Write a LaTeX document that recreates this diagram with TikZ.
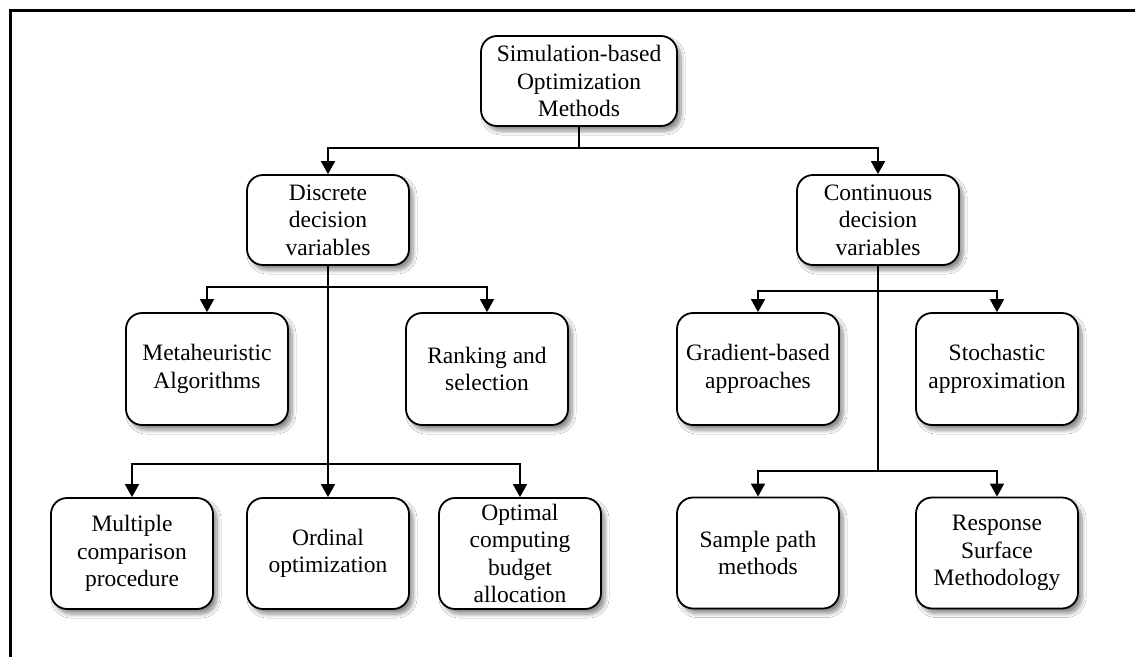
\documentclass[tikz,border=0pt]{standalone}
\usepackage{fontspec}
\setmainfont{Liberation Serif}
\usetikzlibrary{arrows.meta,shadows.blur}
\begin{document}
\begin{tikzpicture}[x=1pt,y=-1pt,
  box/.style={draw=black, line width=1.8pt, rounded corners=16pt, fill=white,
    align=center, inner sep=0pt, minimum width=162pt, minimum height=111pt,
    font=\fontsize{23.5}{27.5}\selectfont,
    blur shadow={shadow xshift=4pt, shadow yshift=-5pt, shadow blur steps=8, shadow blur radius=4pt, shadow opacity=45}},
  topbox/.style={box, minimum height=90pt},
  conn/.style={line width=1.7pt},
  arr/.style={conn, -{Triangle[width=14pt,length=13pt]}}]
\useasboundingbox (0,0) rectangle (1135,656);
\fill[white] (0,0) rectangle (1135,656);
\draw[line width=3pt] (10,660) -- (10,10) -- (1140,10);

\node[topbox, minimum width=196pt] (root) at (579,81) {Simulation-based\\Optimization\\Methods};
\node[topbox] (disc) at (328,220) {Discrete\\decision\\variables};
\node[topbox] (cont) at (878,220) {Continuous\\decision\\variables};

\node[box, minimum height=112pt] (meta) at (207,369) {Metaheuristic\\Algorithms};
\node[box, minimum height=112pt] (rank) at (487,369) {Ranking and\\selection};
\node[box, minimum height=112pt] (grad) at (758,369) {Gradient-based\\approaches};
\node[box, minimum height=112pt] (stoch) at (997,369) {Stochastic\\approximation};

\node[box] (mult) at (132,553.5) {Multiple\\comparison\\procedure};
\node[box] (ord) at (328,553.5) {Ordinal\\optimization};
\node[box] (opt) at (520,553.5) {Optimal\\computing\\budget\\allocation};
\node[box] (samp) at (758,553) {Sample path\\methods};
\node[box] (resp) at (997,553) {Response\\Surface\\Methodology};

\coordinate (r1) at (579,148);
\coordinate (d1) at (328,287);
\coordinate (d2) at (328,464);
\coordinate (c1) at (878,291);
\coordinate (c2) at (878,471);

\draw[conn] (root.south) -- (r1);
\draw[arr] (r1) -| (disc.north);
\draw[arr] (r1) -| (cont.north);

\draw[arr] (disc.south) -- (ord.north);
\draw[arr] (d1) -| (meta.north);
\draw[arr] (d1) -| (rank.north);
\draw[arr] (d2) -| (mult.north);
\draw[arr] (d2) -| (opt.north);

\draw[conn] (cont.south) -- (c2);
\draw[arr] (c1) -| (grad.north);
\draw[arr] (c1) -| (stoch.north);
\draw[arr] (c2) -| (samp.north);
\draw[arr] (c2) -| (resp.north);
\end{tikzpicture}
\end{document}
